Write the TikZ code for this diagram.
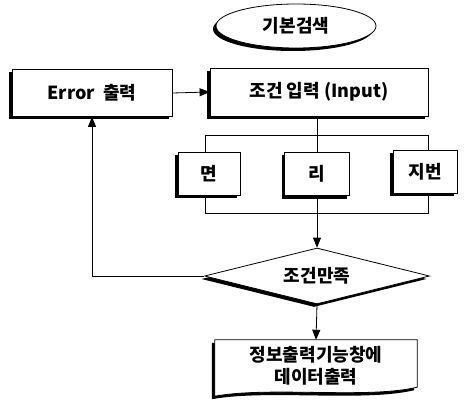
\documentclass[tikz,border=0pt]{standalone}
\usepackage{fontspec}
\newfontfamily\krfont{Noto Sans CJK KR}
\usetikzlibrary{shapes.geometric,shadows,arrows.meta,backgrounds}

\tikzset{
    blackshade/.style={drop shadow={shadow xshift=-3pt, shadow yshift=-3pt, opacity=1, fill=black}},
    box/.style={draw, fill=white, line width=0.8pt, blackshade, inner sep=0pt},
    plain/.style={line width=0.8pt},
    arr/.style={line width=0.8pt, -{Triangle[width=8pt,length=10pt]}},
}

\begin{document}
\begin{tikzpicture}[x=1pt, y=1pt, font=\krfont\bfseries\fontsize{18}{22}\selectfont]
    \useasboundingbox (0,0) rectangle (465,-406); % page size of the reference

    \node[box, ellipse, minimum width=160, minimum height=44] (start) at (296,-26) {기본검색};
    \node[box, minimum width=160, minimum height=47] (err) at (92,-93) {Error\ \ 출력};
    \node[box, minimum width=218, minimum height=48] (input) at (319,-92) {조건\ 입력 (Input)};

    % frame that holds the three fields
    \node[draw, plain, minimum width=223, minimum height=78, inner sep=0pt] (frame) at (316.5,-174) {};
    \foreach \name/\x/\y/\w/\txt in {myeon/209/-173.5/62/면, ri/317/-174/65/리, jibeon/425/-171.5/64/지번} {
      \node[box, minimum width=\w, minimum height=43] (\name) at (\x,\y) {\txt};
    }

    \node[box, diamond, aspect=4, minimum width=225, minimum height=56] (cond) at (317,-276) {조건만족};

    \node[minimum width=202, minimum height=52, align=center, inner sep=0pt] (out) at (316,-366) {정보출력기능창에\\데이터출력};
    \begin{scope}[on background layer]
      \draw[plain, fill=white, blackshade] (out.north west) -- (out.north east) -- ([yshift=5]out.south east)
        .. controls +(-50,-12) and +(55,10) .. ([yshift=-4]out.south west) -- cycle;
    \end{scope}

    \draw[arr] (err.east) -- (input.west);
    \draw[plain] (input.south -| ri.north) -- (ri.north);
    \draw[arr] (ri.south) -- (cond.north);
    \draw[arr] (cond.west) -| (err.south);
    \draw[arr] (cond.south) -- (out.north);
\end{tikzpicture}
\end{document}
